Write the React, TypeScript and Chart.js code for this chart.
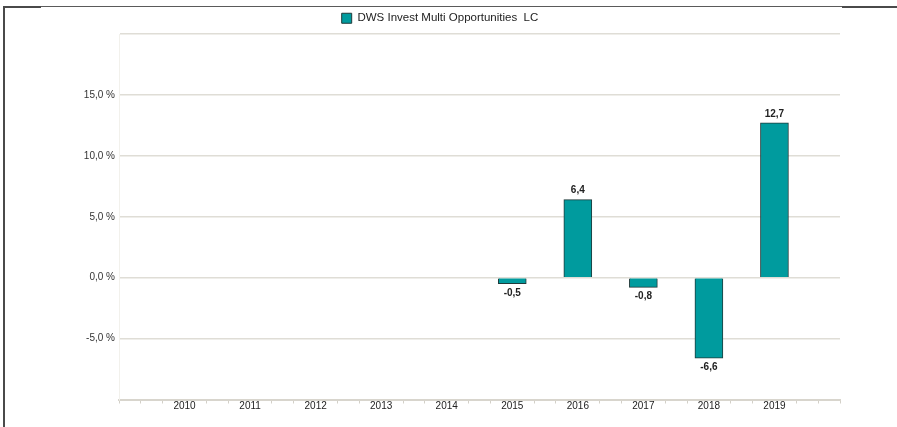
import React, { useEffect, useRef } from 'react';
import { Chart, registerables } from 'chart.js';

Chart.register(...registerables);

const seriesName = 'DWS Invest Multi Opportunities  LC';
const years = [2010, 2011, 2012, 2013, 2014, 2015, 2016, 2017, 2018, 2019];
const returns: (number | null)[] = [null, null, null, null, null, -0.5, 6.4, -0.8, -6.6, 12.7];
const yLabelValues = [-5, 0, 5, 10, 15];
const xRange = [2009, 2020];
const yRange = [-10, 20];

const FONT = '"Liberation Sans", Arial, Helvetica, sans-serif';

const fmt = (v: number) => v.toFixed(1).replace('.', ',');
const isYearLabel = (v: number) => {
  const r = Math.round(v);
  return Math.abs(v - r) < 1e-6 && years.includes(r);
};

const valueLabels = {
  id: 'valueLabels',
  afterDatasetsDraw(chart: any) {
    const ctx = chart.ctx;
    const meta = chart.getDatasetMeta(0);
    ctx.save();
    ctx.font = `bold 10px ${FONT}`;
    ctx.fillStyle = '#222';
    ctx.textAlign = 'center';
    meta.data.forEach((el: any, i: number) => {
      const v = returns[i];
      if (v === null || v === undefined) return;
      if (v >= 0) {
        ctx.textBaseline = 'bottom';
        ctx.fillText(fmt(v), el.x, el.y - 4);
      } else {
        ctx.textBaseline = 'top';
        ctx.fillText(fmt(v), el.x, el.y + 4);
      }
    });
    ctx.restore();
  },
};

export default function App() {
  const ref = useRef<HTMLCanvasElement>(null);

  useEffect(() => {
    document.body.style.margin = '0';
    const chart = new Chart(ref.current as HTMLCanvasElement, {
      type: 'bar',
      data: {
        datasets: [
          {
            label: seriesName,
            data: years.map((y, i) => ({ x: y, y: returns[i] })) as any,
            backgroundColor: '#009b9e',
            borderColor: '#1f3a3a',
            borderWidth: 1,
            barThickness: 28,
          },
        ],
      },
      options: {
        responsive: false,
        animation: false,
        layout: { padding: { left: 40, right: 57, top: 1.5, bottom: 0 } },
        plugins: {
          tooltip: { enabled: false },
          legend: {
            display: true,
            position: 'top',
            labels: {
              boxWidth: 10,
              boxHeight: 10,
              padding: 11,
              color: '#222',
              font: { family: FONT, size: 11.5 },
            },
          },
        },
        scales: {
          x: {
            type: 'linear',
            offset: false,
            min: xRange[0],
            max: xRange[1],
            afterBuildTicks: (scale: any) => {
              const n = (xRange[1] - xRange[0]) * 3;
              scale.ticks = Array.from({ length: n + 1 }, (_, i) => ({ value: xRange[0] + i / 3 }));
            },
            afterFit: (scale: any) => {
              scale.height = 27.5;
            },
            ticks: {
              autoSkip: false,
              maxRotation: 0,
              minRotation: 0,
              padding: -3,
              color: '#222',
              font: { family: FONT, size: 10 },
              callback: (v: any) => (isYearLabel(Number(v)) ? String(Math.round(Number(v))) : ''),
            },
            grid: {
              offset: false,
              drawOnChartArea: false,
              drawTicks: true,
              tickLength: 4,
              color: (c: any) => (c.tick && isYearLabel(c.tick.value) ? 'rgba(0,0,0,0)' : '#d3d0c8'),
              lineWidth: 1,
            },
            border: { display: true, color: '#d8d5cd', width: 2 },
          },
          y: {
            min: yRange[0],
            max: yRange[1],
            afterBuildTicks: (scale: any) => {
              const t = [];
              for (let v = yRange[0]; v <= yRange[1]; v += 5) t.push({ value: v });
              scale.ticks = t;
            },
            afterFit: (scale: any) => {
              scale.width = 79;
            },
            ticks: {
              padding: 4,
              color: '#333',
              font: { family: FONT, size: 10 },
              callback: (v: any) => (yLabelValues.includes(Number(v)) ? `${fmt(Number(v))} %` : ''),
            },
            grid: {
              drawTicks: false,
              color: '#dfddd6',
              lineWidth: 1.5,
            },
            border: { display: true, color: '#f2f1ec', width: 1 },
          },
        },
      },
      plugins: [valueLabels],
    } as any);
    return () => chart.destroy();
  }, []);

  return (
    <div style={{ position: 'relative', width: 897, height: 427, background: '#fff', overflow: 'hidden' }}>
      <canvas ref={ref} width={897} height={427} style={{ position: 'absolute', left: 0, top: 0 }} />
      <div style={{ position: 'absolute', left: 3, top: 6, width: 894, height: 421, borderTop: '1px solid #5a5a5a', borderLeft: '2px solid #4a4a4a' }} />
      <div style={{ position: 'absolute', left: 3, top: 6, width: 38, height: 2, background: '#4a4a4a' }} />
      <div style={{ position: 'absolute', left: 842, top: 6, width: 55, height: 2, background: '#4a4a4a' }} />
    </div>
  );
}
